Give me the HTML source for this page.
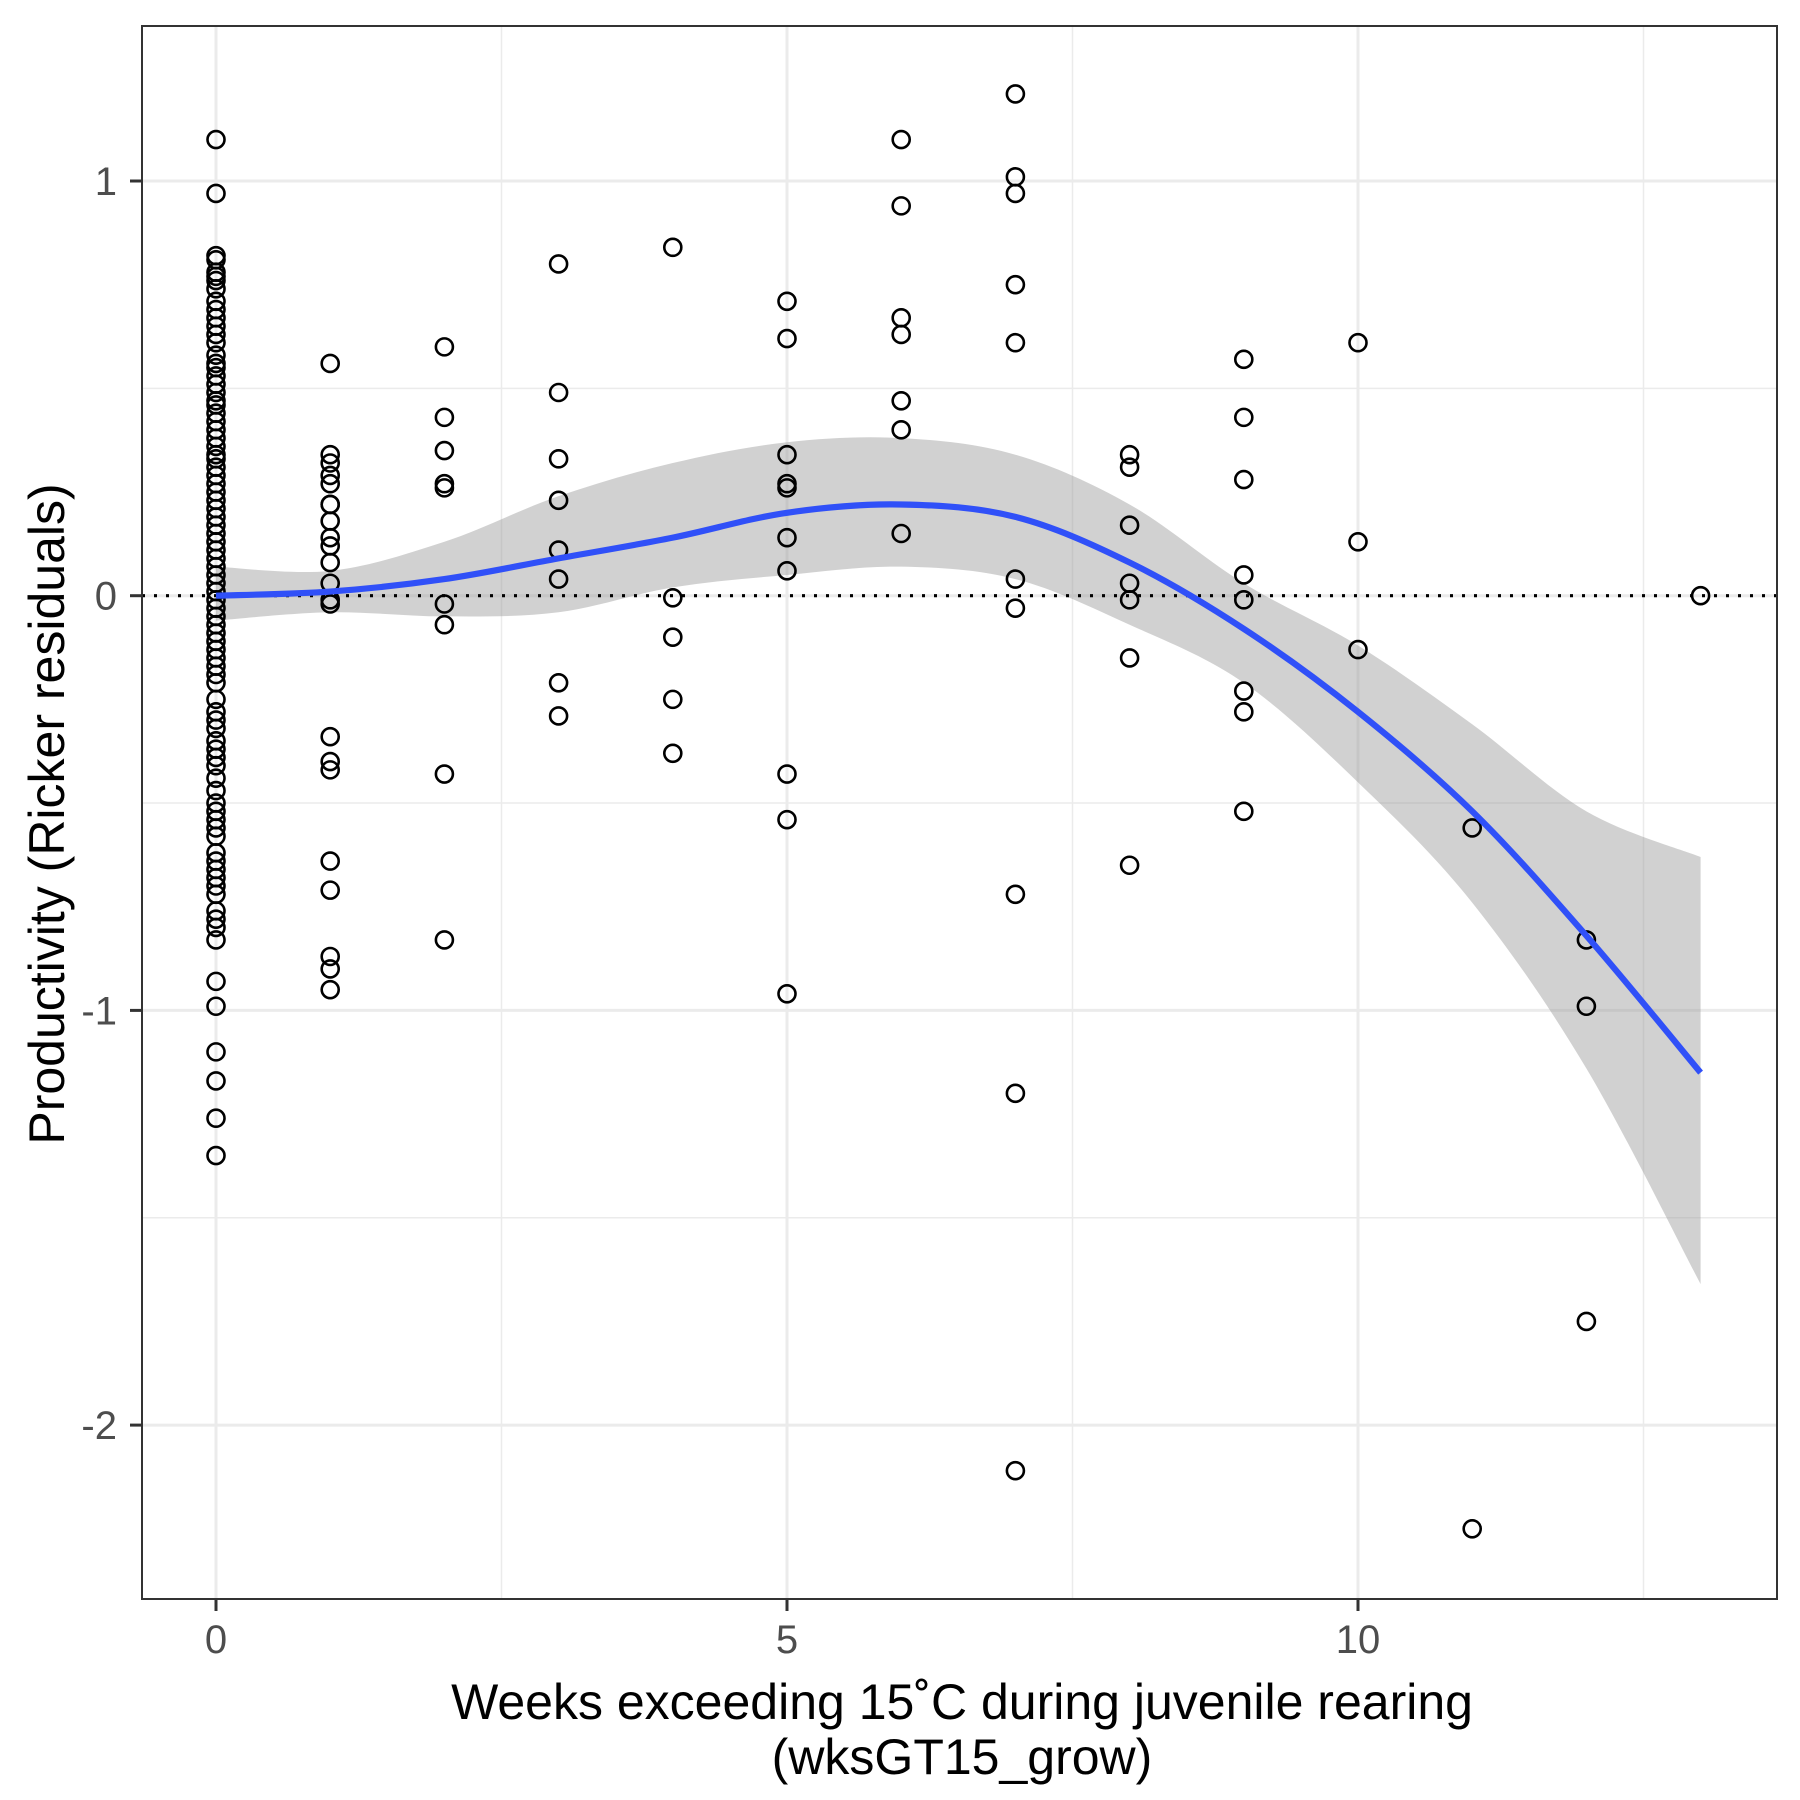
<!DOCTYPE html>
<html><head><meta charset="utf-8"><title>Productivity vs weeks exceeding 15°C</title>
<style>html,body{margin:0;padding:0;background:#fff;}svg{display:block;}</style></head>
<body>
<svg id="chart" width="1800" height="1800" viewBox="0 0 1800 1800" xmlns="http://www.w3.org/2000/svg" font-family="Liberation Sans, Arial, sans-serif">
<rect width="1800" height="1800" fill="#fff"/>
<g id="grid"></g>
<g id="band"></g>
<line id="zeroline" stroke="#000" stroke-width="3.2" stroke-dasharray="3,9"/>
<g id="pts"></g>
<path id="smooth" fill="none" stroke="#3050f8" stroke-width="6.2"/>
<rect x="142" y="26" width="1635" height="1573" fill="none" stroke="#333" stroke-width="2"/>
<g id="axes"></g>
<text x="962" y="1719" font-size="50" text-anchor="middle" fill="#000">Weeks exceeding 15˚C during juvenile rearing</text>
<text x="962" y="1774" font-size="50" text-anchor="middle" fill="#000">(wksGT15_grow)</text>
<text transform="translate(64,814) rotate(-90)" font-size="50" text-anchor="middle" fill="#000">Productivity (Ricker residuals)</text>
</svg>
<script>
const xTicks=[0,5,10];
const yTicks=[1,0,-1,-2];
const xMinor=[2.5,7.5,12.5];
const yMinor=[0.5,-0.5,-1.5];
const ptX0=[1.10,0.97,0.82,0.81,0.78,0.77,0.76,0.74,0.71,0.69,0.67,0.65,0.63,0.61,0.58,0.56,0.55,0.53,0.51,0.49,0.47,0.46,0.44,0.42,0.40,0.38,0.36,0.34,0.33,0.31,0.29,0.27,0.25,0.23,0.21,0.19,0.17,0.15,0.13,0.11,0.09,0.07,0.05,0.03,0.01,-0.01,-0.03,-0.05,-0.07,-0.09,-0.11,-0.13,-0.15,-0.17,-0.19,-0.21,-0.25,-0.28,-0.30,-0.32,-0.35,-0.37,-0.39,-0.41,-0.44,-0.47,-0.50,-0.52,-0.54,-0.56,-0.58,-0.62,-0.64,-0.66,-0.68,-0.70,-0.72,-0.76,-0.78,-0.80,-0.83,-0.93,-0.99,-1.10,-1.17,-1.26,-1.35];
const ptX=[1,1,1,1,1,1,1,1,1,1,1,1,1,1,1,1,1,1,1,1,1,1, 2,2,2,2,2,2,2,2,2, 3,3,3,3,3,3,3,3, 4,4,4,4,4, 5,5,5,5,5,5,5,5,5,5, 6,6,6,6,6,6,6, 7,7,7,7,7,7,7,7,7,7, 8,8,8,8,8,8,8, 9,9,9,9,9,9,9,9, 10,10,10, 11,11, 12,12,12, 13];
const ptY=[0.56,0.34,0.32,0.29,0.27,0.22,0.22,0.18,0.14,0.12,0.08,0.03,-0.01,-0.02,-0.34,-0.40,-0.42,-0.64,-0.71,-0.87,-0.90,-0.95,
0.60,0.43,0.35,0.27,0.26,-0.02,-0.07,-0.43,-0.83,
0.80,0.49,0.33,0.23,0.11,0.04,-0.21,-0.29,
0.84,-0.005,-0.10,-0.25,-0.38,
0.71,0.62,0.34,0.27,0.26,0.14,0.06,-0.43,-0.54,-0.96,
1.10,0.94,0.67,0.63,0.47,0.40,0.15,
1.21,1.01,0.97,0.75,0.61,0.04,-0.03,-0.72,-1.20,-2.11,
0.34,0.31,0.17,0.03,-0.01,-0.15,-0.65,
0.57,0.43,0.28,0.05,-0.01,-0.23,-0.28,-0.52,
0.61,0.13,-0.13,
-0.56,-2.25,
-0.83,-0.99,-1.75,
0.0];
const fitX=[0,1,2,3,4,5,6,7,8,9,10,11,12,13];
const fitY=[0,0.01,0.04,0.09,0.14,0.20,0.22,0.19,0.08,-0.08,-0.28,-0.52,-0.82,-1.15];
const bandHi=[0.07,0.06,0.13,0.24,0.32,0.37,0.38,0.34,0.22,0.03,-0.12,-0.31,-0.52,-0.63];
const bandLo=[-0.06,-0.04,-0.05,-0.04,0.02,0.05,0.07,0.04,-0.07,-0.21,-0.45,-0.74,-1.14,-1.66];

const NS='http://www.w3.org/2000/svg';
const sx=v=>216+v*114.2;
const sy=v=>595.7-v*414.7;
const L=142,R=1777,T=26,B=1599;
function mk(tag,attrs,parent){const e=document.createElementNS(NS,tag);for(const k in attrs)e.setAttribute(k,attrs[k]);parent.appendChild(e);return e;}
const grid=document.getElementById('grid'),axes=document.getElementById('axes');
xMinor.forEach(v=>{const e=mk('line',{x1:sx(v),x2:sx(v),y1:T,y2:B,stroke:'#ebebeb','stroke-width':1.5},grid);

});
yMinor.forEach(v=>{const e=mk('line',{x1:L,x2:R,y1:sy(v),y2:sy(v),stroke:'#ebebeb','stroke-width':1.5},grid);

});
xTicks.forEach(v=>{const e=mk('line',{x1:sx(v),x2:sx(v),y1:T,y2:B,stroke:'#ebebeb','stroke-width':3},grid);


const t=mk('line',{x1:sx(v),x2:sx(v),y1:B,y2:B+12,stroke:'#333','stroke-width':3},axes);


const l=mk('text',{x:sx(v),y:1653,'font-size':40,'text-anchor':'middle',fill:'#4d4d4d'},axes);l.textContent=v;

});
yTicks.forEach(v=>{const e=mk('line',{x1:L,x2:R,y1:sy(v),y2:sy(v),stroke:'#ebebeb','stroke-width':3},grid);


const t=mk('line',{x1:L-12,x2:L,y1:sy(v),y2:sy(v),stroke:'#333','stroke-width':3},axes);


const l=mk('text',{x:117,y:sy(v)+14,'font-size':40,'text-anchor':'end',fill:'#4d4d4d'},axes);l.textContent=v;

});
const z=document.getElementById('zeroline');z.setAttribute('x1',L);z.setAttribute('x2',R);z.setAttribute('y1',sy(0));z.setAttribute('y2',sy(0));
function curve(xs,ys){let p=[];for(let i=0;i<xs.length;i++)p.push([sx(xs[i]),sy(ys[i])]);
let d='M'+p[0][0]+','+p[0][1];
for(let i=0;i<p.length-1;i++){const p0=p[Math.max(i-1,0)],p1=p[i],p2=p[i+1],p3=p[Math.min(i+2,p.length-1)];
d+=' C'+(p1[0]+(p2[0]-p0[0])/6)+','+(p1[1]+(p2[1]-p0[1])/6)+' '+(p2[0]-(p3[0]-p1[0])/6)+','+(p2[1]-(p3[1]-p1[1])/6)+' '+p2[0]+','+p2[1];}
return d;}
const hi=curve(fitX,bandHi);
const loR=curve(fitX.slice().reverse(),bandLo.slice().reverse());
const band=mk('path',{d:hi+' L'+loR.slice(1)+' Z',fill:'#999','fill-opacity':0.45},document.getElementById('band'));


document.getElementById('smooth').setAttribute('d',curve(fitX,fitY));
const pts=document.getElementById('pts');
function pt(x,y){const c=mk('circle',{cx:sx(x),cy:sy(y),r:8.5,fill:'none',stroke:'#000','stroke-width':2.6},pts);

}
ptX0.forEach(y=>pt(0,y));
ptX.forEach((x,i)=>pt(x,ptY[i]));
</script>
</body></html>
